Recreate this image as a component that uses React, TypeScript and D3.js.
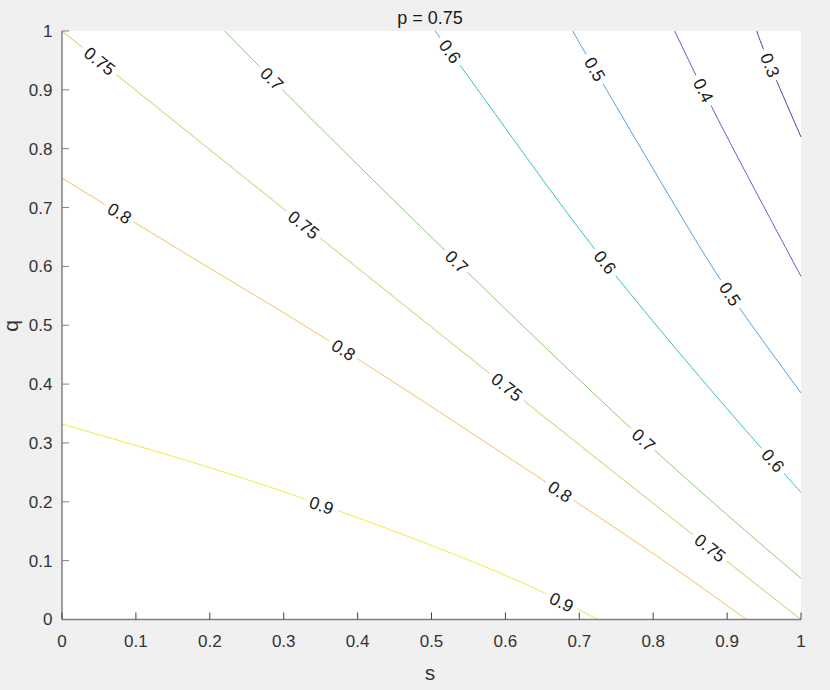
import React from "react";
import * as d3 from "d3";

// contour levels of the p = 0.75 panel, points as (s, q)
const levels = [0.3, 0.4, 0.5, 0.6, 0.7, 0.75, 0.8, 0.9];
const levelColors = ["#4a45a6", "#5f5fd6", "#4ea2e2", "#36c0c8", "#8fc97c", "#d4c660", "#f3c25e", "#f3ea40"];

const lineS = [
  [0.94, 0.958, 1],
  [0.829, 0.868, 0.92, 1],
  [0.691, 0.75, 0.83, 0.904, 1],
  [0.505, 0.6, 0.735, 0.9, 1],
  [0.22, 0.35, 0.534, 0.787, 1],
  [0, 0.25, 0.5, 0.75, 1],
  [0, 0.2, 0.381, 0.6, 0.8, 0.926],
  [0, 0.2, 0.4, 0.6, 0.725],
];
const lineQ = [
  [1, 0.942, 0.82],
  [1, 0.899, 0.772, 0.583],
  [1, 0.872, 0.702, 0.553, 0.385],
  [1, 0.835, 0.607, 0.358, 0.216],
  [1, 0.835, 0.608, 0.305, 0.07],
  [1, 0.748, 0.497, 0.247, 0],
  [0.75, 0.597, 0.458, 0.279, 0.112, 0],
  [0.332, 0.258, 0.173, 0.075, 0],
];

// where the inline labels sit (s of each label on its line)
const labelS = [
  [0.958],
  [0.868],
  [0.721, 0.904],
  [0.525, 0.735, 0.962],
  [0.284, 0.534, 0.787],
  [0.051, 0.327, 0.602, 0.877],
  [0.078, 0.381, 0.674],
  [0.351, 0.676],
];

const xTicks = [0, 0.1, 0.2, 0.3, 0.4, 0.5, 0.6, 0.7, 0.8, 0.9, 1];
const yTicks = [0, 0.1, 0.2, 0.3, 0.4, 0.5, 0.6, 0.7, 0.8, 0.9, 1];

const W = 830;
const H = 690;
const font = "'Liberation Sans', Arial, Helvetica, sans-serif";

// q on a polyline at a given s
const qAt = (s: number[], q: number[], at: number) => {
  let k = d3.bisectLeft(s, at);
  if (k <= 0) k = 1;
  if (k >= s.length) k = s.length - 1;
  const t = (at - s[k - 1]) / (s[k] - s[k - 1]);
  return q[k - 1] + t * (q[k] - q[k - 1]);
};

const App = () => {
  const x = d3.scaleLinear().domain([0, 1]).range([62, 801]);
  const y = d3.scaleLinear().domain([0, 1]).range([619.5, 31]);

  const line = d3
    .line<[number, number]>()
    .x((d) => x(d[0]))
    .y((d) => y(d[1]))
    .curve(d3.curveNatural);

  const fmt = (v: number) => (v === 0 || v === 1 ? String(v) : d3.format(".1f")(v));

  const labels: { x: number; y: number; a: number; t: string }[] = [];
  levels.forEach((lv, i) => {
    const s = lineS[i];
    const q = lineQ[i];
    labelS[i].forEach((ls) => {
      const dx = x(ls + 0.004) - x(ls - 0.004);
      const dy = y(qAt(s, q, ls + 0.004)) - y(qAt(s, q, ls - 0.004));
      labels.push({ x: x(ls), y: y(qAt(s, q, ls)), a: (Math.atan2(dy, dx) * 180) / Math.PI, t: String(lv) });
    });
  });

  return (
    <svg width={W} height={H} style={{ position: "absolute", left: 0, top: 0 }} fontFamily={font}>
      <rect width={W} height={H} fill="#f0f0f0" />
      <rect x={x(0)} y={y(1)} width={x(1) - x(0)} height={y(0) - y(1)} fill="#ffffff" />

      <g fill="none" strokeWidth={1}>
        {levels.map((lv, i) => (
          <path
            key={lv}
            d={line(lineS[i].map((s, j) => [s, lineQ[i][j]] as [number, number])) || ""}
            stroke={levelColors[i]}
          />
        ))}
      </g>

      <g fontSize={17.5} fill="#1a1a1a" textAnchor="middle">
        {labels.map((l, i) => (
          <text
            key={i}
            transform={`translate(${l.x},${l.y}) rotate(${l.a})`}
            dy="0.35em"
            stroke="#ffffff"
            strokeWidth={11}
            strokeLinejoin="round"
            paintOrder="stroke"
          >
            {l.t}
          </text>
        ))}
      </g>

      {/* axes */}
      <g stroke="#808080" strokeWidth={1.5}>
        <line x1={x(0)} x2={x(1)} y1={y(0)} y2={y(0)} />
        <line x1={x(0)} x2={x(0)} y1={y(0)} y2={y(1)} />
      </g>
      <g stroke="#404040" strokeWidth={1}>
        {xTicks.map((t) => (
          <line key={t} x1={x(t)} x2={x(t)} y1={y(0)} y2={y(0) - 7} />
        ))}
      </g>
      <g stroke="#808080" strokeWidth={1}>
        {yTicks.map((t) => (
          <line key={t} x1={x(0)} x2={x(0) + 7} y1={y(t)} y2={y(t)} />
        ))}
      </g>
      <g fontSize={17} fill="#333333" textAnchor="middle">
        {xTicks.map((t) => (
          <text key={t} x={x(t)} y={646.5}>
            {fmt(t)}
          </text>
        ))}
      </g>
      <g fontSize={17} fill="#333333" textAnchor="end">
        {yTicks.map((t) => (
          <text key={t} x={52.5} y={y(t)} dy="0.35em">
            {fmt(t)}
          </text>
        ))}
      </g>

      <text x={430} y={680} fontSize={21} fill="#333333" textAnchor="middle">
        s
      </text>
      <text transform="translate(18,326) rotate(-90)" fontSize={21} fill="#333333" textAnchor="middle">
        q
      </text>
      <text x={430} y={24} fontSize={18} fill="#1a1a1a" textAnchor="middle">
        p = 0.75
      </text>
    </svg>
  );
};

export default App;
